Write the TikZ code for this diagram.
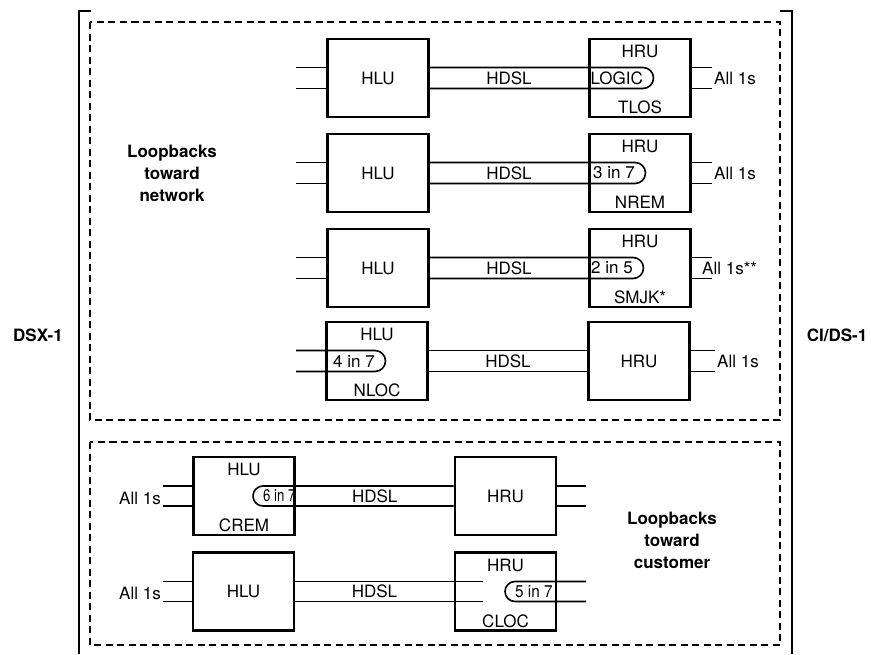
\documentclass[tikz,border=0pt]{standalone}
\usepackage{fontspec}
\setmainfont{TeX Gyre Heros}
\usetikzlibrary{positioning}

\begin{document}
\begin{tikzpicture}[
    x=1pt, y=-1pt,
    unit/.style={rectangle, draw, line width=2.6pt, minimum width=101pt, minimum height=78pt, inner sep=0pt, font=\fontsize{17}{20}\selectfont},
    txt/.style={font=\fontsize{17}{20}\selectfont, inner sep=0pt},
    ones/.style={font=\fontsize{17}{20}\selectfont, inner sep=2pt},
    tag/.style={font=\fontsize{17}{22}\selectfont\bfseries, align=center},
    wire/.style={line width=1.6pt},
    zone/.style={draw, line width=1.5pt, dash pattern=on 7pt off 4.5pt},
    rail/.style={line width=2.6pt}
]
\useasboundingbox (0,0) rectangle (871,654);

\draw[rail] (91,11) -- (79,11) -- (79,654);
\draw[rail] (780,11) -- (792,11) -- (792,654);
\draw[zone] (90,22) rectangle (780,420);
\draw[zone] (90,442) rectangle (780,645);

\node[tag] (dsx) at (38,335) {DSX-1};
\node[tag] (cids) at (837,335) {CI/DS-1};
\node[tag] (tonet) at (172,173) {Loopbacks\\toward\\network};
\node[tag] (tocust) at (672,540) {Loopbacks\\toward\\customer};

\coordinate (netin) at (296,0);
\coordinate (custout) at (586,0);
\coordinate (open6) at (483,0);

% toward network
\node[unit] (hlu1) at (378,78) {HLU};
\node[unit] (hru1) at (640,78) {};
\node[txt] (hru1t) at ([yshift=-14pt]hru1.north) {HRU};
\node[txt] (hru1b) at ([yshift=11pt]hru1.south) {TLOS};
\node[txt, anchor=east] (lp1) at (643,78) {LOGIC};
\node[ones, anchor=west] (all1) at (712,78) {All 1s};
\path (hlu1) -- node[txt] (hdsl1) {HDSL} (hru1);
\draw[wire] ([yshift=10.5pt]hlu1.west -| netin) -- ([yshift=10.5pt]hlu1.west);
\draw[wire] ([yshift=-10.5pt]hlu1.west -| netin) -- ([yshift=-10.5pt]hlu1.west);
\draw[wire] ([yshift=10.5pt]hlu1.east) -- ([yshift=10.5pt]lp1.east) arc[start angle=90, end angle=-90, radius=10.5pt] -- ([yshift=-10.5pt]hlu1.east);
\draw[wire] ([yshift=10.5pt]hru1.east) -- ([yshift=10.5pt]hru1.east -| all1.west);
\draw[wire] ([yshift=-10.5pt]hru1.east) -- ([yshift=-10.5pt]hru1.east -| all1.west);

\node[unit] (hlu2) at (378,173) {HLU};
\node[unit] (hru2) at (640,173) {};
\node[txt] (hru2t) at ([yshift=-14pt]hru2.north) {HRU};
\node[txt] (hru2b) at ([yshift=11pt]hru2.south) {NREM};
\node[txt, anchor=east] (lp2) at (635,173) {3 in 7};
\node[ones, anchor=west] (all2) at (712,173) {All 1s};
\path (hlu2) -- node[txt] (hdsl2) {HDSL} (hru2);
\draw[wire] ([yshift=10.5pt]hlu2.west -| netin) -- ([yshift=10.5pt]hlu2.west);
\draw[wire] ([yshift=-10.5pt]hlu2.west -| netin) -- ([yshift=-10.5pt]hlu2.west);
\draw[wire] ([yshift=10.5pt]hlu2.east) -- ([yshift=10.5pt]lp2.east) arc[start angle=90, end angle=-90, radius=10.5pt] -- ([yshift=-10.5pt]hlu2.east);
\draw[wire] ([yshift=10.5pt]hru2.east) -- ([yshift=10.5pt]hru2.east -| all2.west);
\draw[wire] ([yshift=-10.5pt]hru2.east) -- ([yshift=-10.5pt]hru2.east -| all2.west);

\node[unit] (hlu3) at (378,268) {HLU};
\node[unit] (hru3) at (640,268) {};
\node[txt] (hru3t) at ([yshift=-14pt]hru3.north) {HRU};
\node[txt] (hru3b) at ([yshift=11pt]hru3.south) {SMJK*};
\node[txt, anchor=east] (lp3) at (633,268) {2 in 5};
\node[txt, anchor=west] (all3) at (702,268) {All 1s**};
\path (hlu3) -- node[txt] (hdsl3) {HDSL} (hru3);
\draw[wire] ([yshift=10.5pt]hlu3.west -| netin) -- ([yshift=10.5pt]hlu3.west);
\draw[wire] ([yshift=-10.5pt]hlu3.west -| netin) -- ([yshift=-10.5pt]hlu3.west);
\draw[wire] ([yshift=10.5pt]hlu3.east) -- ([yshift=10.5pt]lp3.east) arc[start angle=90, end angle=-90, radius=10.5pt] -- ([yshift=-10.5pt]hlu3.east);
\draw[wire] ([yshift=10.5pt]hru3.east) -- ([xshift=10pt,yshift=10.5pt]hru3.east -| all3.west);
\draw[wire] ([yshift=-10.5pt]hru3.east) -- ([xshift=10pt,yshift=-10.5pt]hru3.east -| all3.west);

\node[unit] (hlu4) at (377,361) {};
\node[unit] (hru4) at (639,361) {HRU};
\node[txt] (hlu4t) at ([yshift=-14pt]hlu4.north) {HLU};
\node[txt] (hlu4b) at ([yshift=11pt]hlu4.south) {NLOC};
\node[txt, anchor=east] (lp4) at (375,361) {4 in 7};
\node[ones, anchor=west] (all4) at (715,361) {All 1s};
\path (hlu4) -- node[txt] (hdsl4) {HDSL} (hru4);
\draw[wire] ([yshift=10.5pt]hlu4.west -| netin) -- ([yshift=10.5pt]lp4.east) arc[start angle=90, end angle=-90, radius=10.5pt] -- ([yshift=-10.5pt]hlu4.west -| netin);
\draw[wire] ([yshift=10.5pt]hlu4.east) -- ([yshift=10.5pt]hru4.west);
\draw[wire] ([yshift=-10.5pt]hlu4.east) -- ([yshift=-10.5pt]hru4.west);
\draw[wire] ([yshift=10.5pt]hru4.east) -- ([yshift=10.5pt]hru4.east -| all4.west);
\draw[wire] ([yshift=-10.5pt]hru4.east) -- ([yshift=-10.5pt]hru4.east -| all4.west);

% toward customer
\node[unit] (hlu5) at (244,496) {};
\node[unit] (hru5) at (505.5,496) {HRU};
\node[txt] (hlu5t) at ([yshift=-14pt]hlu5.north) {HLU};
\node[txt] (hlu5b) at ([yshift=11pt]hlu5.south) {CREM};
\node[txt, anchor=west, xscale=0.78] (lp5) at (263,496) {6 in 7};
\node[ones, anchor=east] (allc5) at (163,498) {All 1s};
\path (hlu5) -- node[txt] (hdsl5) {HDSL} (hru5);
\draw[wire] ([yshift=10pt]hlu5.west -| allc5.east) -- ([yshift=10pt]hlu5.west);
\draw[wire] ([yshift=-10pt]hlu5.west -| allc5.east) -- ([yshift=-10pt]hlu5.west);
\draw[wire] ([yshift=10pt]hru5.west) -- ([yshift=10pt]lp5.west) arc[start angle=90, end angle=270, radius=10pt] -- ([yshift=-10pt]hru5.west);
\draw[wire] ([yshift=10pt]hru5.east) -- ([yshift=10pt]hru5.east -| custout);
\draw[wire] ([yshift=-10pt]hru5.east) -- ([yshift=-10pt]hru5.east -| custout);

\node[unit] (hlu6) at (243.5,591.5) {HLU};
\node[unit] (hru6) at (505.5,591.5) {};
\node[txt] (hru6t) at ([yshift=-14pt]hru6.north) {HRU};
\node[txt] (hru6b) at ([yshift=11pt]hru6.south) {CLOC};
\node[txt, anchor=west, xscale=0.9] (lp6) at (515,591.5) {5 in 7};
\node[ones, anchor=east] (allc6) at (163,593) {All 1s};
\path (hlu6) -- node[txt] (hdsl6) {HDSL} (hru6);
\draw[wire] ([yshift=10pt]hlu6.west -| allc6.east) -- ([yshift=10pt]hlu6.west);
\draw[wire] ([yshift=-10pt]hlu6.west -| allc6.east) -- ([yshift=-10pt]hlu6.west);
\draw[wire] ([yshift=10pt]hlu6.east) -- ([yshift=10pt]hlu6.east -| open6);
\draw[wire] ([yshift=-10pt]hlu6.east) -- ([yshift=-10pt]hlu6.east -| open6);
\draw[wire] ([yshift=10pt]hru6.east -| custout) -- ([yshift=10pt]lp6.west) arc[start angle=90, end angle=270, radius=10pt] -- ([yshift=-10pt]hru6.east -| custout);
\end{tikzpicture}
\end{document}
